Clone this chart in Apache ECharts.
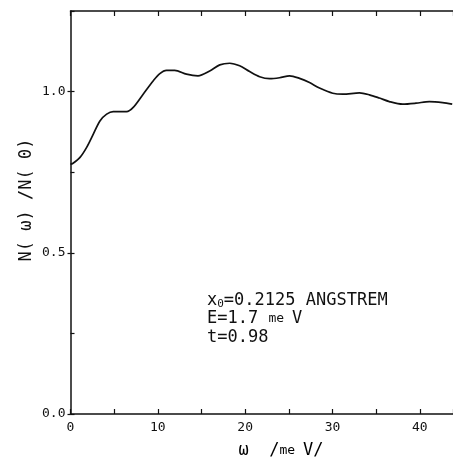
<!DOCTYPE html>
<html>
<head>
<meta charset="utf-8">
<script src="https://cdn.jsdelivr.net/npm/echarts@6/dist/echarts.min.js"></script>
<style>
  html, body { margin: 0; padding: 0; background: #fff; }
  #chart { width: 453px; height: 462px; }
</style>
</head>
<body>
<div id="chart"></div>
<script>
// omega in meV
const omega = [0, 0.25, 1.09, 1.85, 2.61, 3.37, 4.14, 4.89, 6.42, 7.18, 8.32, 9.46, 10.23, 10.99, 11.94,
  13.28, 14.6, 15.94, 17.09, 18.23, 19.37, 20.51, 21.66, 22.8, 23.94, 25.09, 26.23, 27.37, 28.51,
  30.03, 31.18, 33.09, 34.23, 35.37, 36.51, 38.03, 39.57, 41.09, 42.61, 43.71]
const nRatio = [0.775, 0.777, 0.796, 0.827, 0.868, 0.909, 0.930, 0.938, 0.938, 0.951, 0.992, 1.033, 1.056, 1.066, 1.066,
  1.054, 1.049, 1.064, 1.083, 1.088, 1.080, 1.062, 1.046, 1.040, 1.043, 1.049, 1.041, 1.028, 1.011,
  0.995, 0.992, 0.996, 0.990, 0.980, 0.969, 0.961, 0.964, 0.969, 0.966, 0.961]
const xTickLabels = { 0: '0', 10: '10', 20: '20', 30: '30', 40: '40' }
const yTickLabels = { 0: '0.0', 0.5: '0.5', 1: '1.0' }
const yMajor = [0, 0.5, 1]
const notes = ['{a|x}{sub|0}{a|=0.2125 ANGSTREM}', '{a|E=1.7 }{s|me }{a|V}', '{a|t=0.98}']

const font = 'DejaVu Sans Mono'
const ink = '#111'
const xMax = 43.8  // the plot runs off the right edge of the picture

const chart = echarts.init(document.getElementById('chart'))

const xCommon = {
  type: 'value', min: 0, max: xMax, interval: 5,
  axisLine: { onZero: false, lineStyle: { color: ink, width: 1.5 } },
  axisTick: { inside: true, length: 5, lineStyle: { color: ink, width: 1.2 } },
  splitLine: { show: false }
}

const option = {
  animation: false,
  backgroundColor: '#fff',
  grid: { left: 70.5, top: 11, bottom: 48, right: 0, containLabel: false, outerBoundsMode: 'none' },
  xAxis: [
    Object.assign({}, xCommon, {
      position: 'bottom',
      axisLabel: {
        color: ink, fontFamily: font, fontSize: 13, margin: 7,
        formatter: v => xTickLabels[v] || ''
      }
    }),
    Object.assign({}, xCommon, { position: 'top', axisLabel: { show: false } })
  ],
  yAxis: [
    {
      type: 'value', min: 0, max: 1.25, interval: 0.25, position: 'left',
      axisLine: { onZero: false, lineStyle: { color: ink, width: 1.5 } },
      axisTick: { inside: true, length: 4, lineStyle: { color: ink, width: 1.2 } },
      splitLine: { show: false },
      axisLabel: {
        color: ink, fontFamily: font, fontSize: 13, margin: 5,
        formatter: v => yTickLabels[v] || ''
      }
    },
    {
      // outward stubs at the labelled ticks only
      type: 'value', min: 0, max: 1.25, position: 'left',
      axisLine: { show: false, onZero: false },
      axisTick: { inside: false, length: 3, customValues: yMajor, lineStyle: { color: ink, width: 1.2 } },
      splitLine: { show: false },
      axisLabel: { show: false }
    }
  ],
  series: [{
    type: 'line',
    data: omega.map((w, i) => [w, nRatio[i]]),
    smooth: 0.3,
    showSymbol: false,
    lineStyle: { color: ink, width: 1.7 }
  }],
  graphic: [
    {
      type: 'text', left: 207, top: 291,
      style: {
        text: notes.join('\n'),
        fontFamily: font, lineHeight: 18.5, fill: ink,
        rich: {
          a: { fontFamily: font, fontSize: 17, lineHeight: 18.5, color: ink },
          s: { fontFamily: font, fontSize: 13, lineHeight: 18.5, color: ink },
          sub: { fontFamily: font, fontSize: 11, lineHeight: 18.5, color: ink, verticalAlign: 'bottom', padding: [6, 0, 0, 0] }
        }
      }
    },
    {
      type: 'text', x: 281, y: 451,
      style: {
        text: '{a|ω  /}{s|me }{a|V/}',
        align: 'center', verticalAlign: 'middle',
        rich: {
          a: { fontFamily: font, fontSize: 17, color: ink },
          s: { fontFamily: font, fontSize: 13, color: ink }
        }
      }
    },
    {
      type: 'text', x: 27, y: 200, rotation: Math.PI / 2,
      style: {
        text: 'N( ω) /N( 0)',
        fontFamily: font, fontSize: 17, fill: ink,
        align: 'center', verticalAlign: 'middle'
      }
    }
  ]
}

chart.setOption(option)
</script>
</body>
</html>
